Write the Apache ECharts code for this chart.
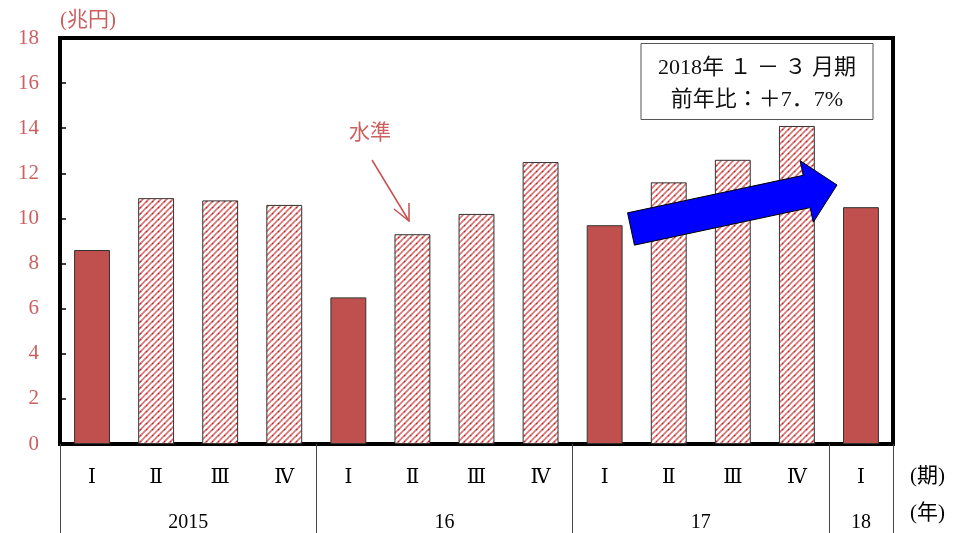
<!DOCTYPE html>
<html>
<head>
<meta charset="utf-8">
<script src="https://cdn.jsdelivr.net/npm/echarts@6/dist/echarts.min.js"></script>
<style>
  html, body { margin: 0; padding: 0; background: #fff; }
  #chart { width: 953px; height: 533px; }
</style>
</head>
<body>
<div id="chart"></div>
<script>
// Quarterly values (trillion yen)
const quarters = ['Ⅰ', 'Ⅱ', 'Ⅲ', 'Ⅳ', 'Ⅰ', 'Ⅱ', 'Ⅲ', 'Ⅳ', 'Ⅰ', 'Ⅱ', 'Ⅲ', 'Ⅳ', 'Ⅰ'];
const values = [8.6, 10.9, 10.8, 10.6, 6.5, 9.3, 10.2, 12.5, 9.7, 11.6, 12.6, 14.1, 10.5];
// Year groups: label, first quarter index, number of quarters
const yearLabels = ['2015', '16', '17', '18'];
const yearStarts = [0, 4, 8, 12];
const yearSpans = [4, 4, 4, 1];
const yTicks = [0, 2, 4, 6, 8, 10, 12, 14, 16, 18];

const RED = '#c0504d';
const LABEL_RED = '#cc5f5f';
const SERIF = "'Liberation Serif', 'DejaVu Serif', 'Noto Sans CJK JP', serif";

// Diagonal dashed hatch used for Q2-Q4 bars
function makeHatch() {
  const s = 6;
  const c = document.createElement('canvas');
  c.width = s; c.height = s;
  const g = c.getContext('2d');
  g.fillStyle = '#ffffff';
  g.fillRect(0, 0, s, s);
  g.strokeStyle = 'rgba(210,80,80,0.8)';
  g.lineWidth = 1.6;
  g.beginPath();
  g.moveTo(-1, s + 1); g.lineTo(s + 1, -1);
  g.moveTo(-1, 1); g.lineTo(1, -1);
  g.moveTo(s - 1, s + 1); g.lineTo(s + 1, s - 1);
  g.stroke();
  g.fillStyle = 'rgba(185,35,35,0.95)';
  g.fillRect(2, 3, 1.3, 1.3);
  return c;
}
const hatch = { image: makeHatch(), repeat: 'repeat' };

const barData = values.map((v, i) => ({
  value: v,
  itemStyle: { color: quarters[i] === 'Ⅰ' ? RED : hatch }
}));

// Year-axis ticks sit on group boundaries, labels at group centres
const groupBounds = yearStarts.concat([yearStarts[yearStarts.length - 1] + yearSpans[yearSpans.length - 1]]);
const groupCentres = yearStarts.map((s, i) => s + yearSpans[i] / 2);

// Block arrow geometry
function blockArrow(sx, sy, tx, ty, shaftHalf, headHalf, headLen) {
  const dx = tx - sx, dy = ty - sy, L = Math.hypot(dx, dy);
  const ux = dx / L, uy = dy / L, nx = -uy, ny = ux;
  const bx = tx - ux * headLen, by = ty - uy * headLen;
  return [
    [sx - nx * shaftHalf, sy - ny * shaftHalf],
    [bx - nx * shaftHalf, by - ny * shaftHalf],
    [bx - nx * headHalf, by - ny * headHalf],
    [tx, ty],
    [bx + nx * headHalf, by + ny * headHalf],
    [bx + nx * shaftHalf, by + ny * shaftHalf],
    [sx + nx * shaftHalf, sy + ny * shaftHalf]
  ];
}

const chart = echarts.init(document.getElementById('chart'), null, { renderer: 'canvas' });

chart.setOption({
  backgroundColor: '#ffffff',
  animation: false,
  grid: {
    left: 60, right: 60, top: 38, bottom: 89,
    show: true, borderColor: '#000', borderWidth: 4, backgroundColor: 'transparent'
  },
  xAxis: [
    {
      type: 'category',
      data: quarters,
      position: 'bottom',
      axisLine: { show: false },
      axisTick: { show: false },
      axisLabel: { margin: 24, fontSize: 20, color: '#000', fontFamily: SERIF }
    },
    {
      type: 'value',
      min: 0, max: 13,
      position: 'bottom',
      splitLine: { show: false },
      axisLine: { show: false },
      axisTick: {
        show: true, length: 92, inside: false,
        customValues: groupBounds,
        lineStyle: { color: '#444', width: 1 }
      },
      axisLabel: {
        margin: 69, fontSize: 20, color: '#000', fontFamily: SERIF,
        customValues: groupCentres,
        formatter: v => {
          const k = groupCentres.indexOf(v);
          return k >= 0 ? yearLabels[k] : '';
        }
      }
    }
  ],
  yAxis: {
    type: 'value',
    min: 0, max: 18, interval: 2,
    axisLine: { show: false },
    splitLine: { show: false },
    axisTick: { show: true, inside: true, length: 6, lineStyle: { color: '#000', width: 1.5 } },
    axisLabel: {
      margin: 21, fontSize: 21, color: LABEL_RED, fontFamily: SERIF,
      customValues: yTicks
    }
  },
  series: [{
    type: 'bar',
    xAxisIndex: 0,
    data: barData,
    barWidth: '56%',
    itemStyle: { borderColor: '#333', borderWidth: 1 }
  }],
  graphic: [
    { type: 'text', left: 60, top: 10, style: { text: '(兆円)', fontSize: 21, fill: LABEL_RED, fontFamily: SERIF } },
    { type: 'text', left: 910, top: 466, style: { text: '(期)', fontSize: 21, fill: '#000', fontFamily: SERIF } },
    { type: 'text', left: 910, top: 503, style: { text: '(年)', fontSize: 21, fill: '#000', fontFamily: SERIF } },
    {
      type: 'rect', shape: { x: 641, y: 43.5, width: 232, height: 76 },
      style: { fill: '#fff', stroke: '#555', lineWidth: 1 }, z: 10
    },
    {
      type: 'text', x: 757, y: 68, z: 11,
      style: { text: '2018年 １ － ３ 月期', fontSize: 22, fill: '#111', fontFamily: SERIF, align: 'center', verticalAlign: 'middle' }
    },
    {
      type: 'text', x: 757, y: 100, z: 11,
      style: { text: '前年比：＋7．7%', fontSize: 22, fill: '#111', fontFamily: SERIF, align: 'center', verticalAlign: 'middle' }
    },
    {
      type: 'polygon', z: 10,
      shape: { points: blockArrow(631, 229, 837, 185, 16.5, 31.5, 31) },
      style: { fill: '#0000ff', stroke: '#000', lineWidth: 1 }
    },
    {
      type: 'text', x: 370, y: 133, z: 10,
      style: { text: '水準', fontSize: 21, fill: LABEL_RED, fontFamily: SERIF, align: 'center', verticalAlign: 'middle' }
    },
    {
      type: 'polyline', z: 10,
      shape: { points: [[372, 160], [409, 221]] },
      style: { stroke: '#c85050', lineWidth: 1.5 }
    },
    {
      type: 'polyline', z: 10,
      shape: { points: [[394, 209], [409, 221], [409, 203]] },
      style: { stroke: '#c85050', lineWidth: 1.5, fill: null }
    }
  ]
});
</script>
</body>
</html>
